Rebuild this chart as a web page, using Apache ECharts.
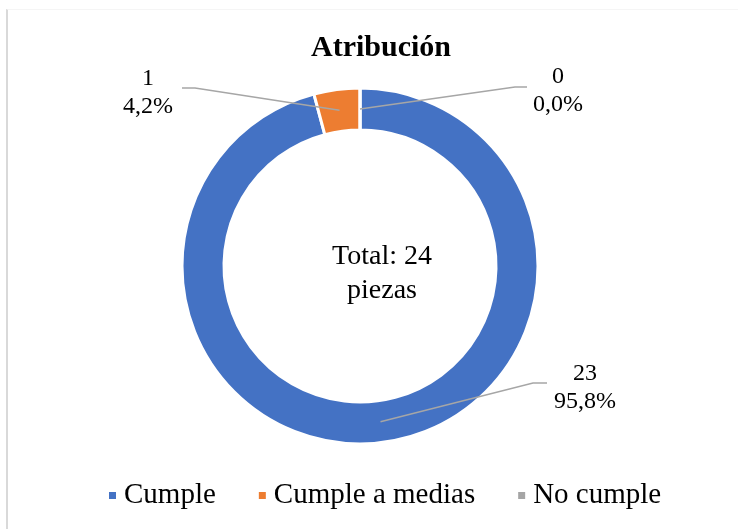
<!DOCTYPE html>
<html>
<head>
<meta charset="utf-8">
<script src="https://cdn.jsdelivr.net/npm/echarts@6/dist/echarts.min.js"></script>
<style>
    html,body{margin:0;padding:0;background:#fff;}
    #frame{position:absolute;left:6px;top:9px;width:732px;height:520px;border-left:2px solid #d9d9d9;border-top:1px solid #f5f5f5;}
    #atribucion{position:absolute;left:0;top:0;width:738px;height:529px;}
</style>
</head>
<body>
<div id="frame"></div>
<div id="atribucion"></div>
<script>
    // datos
    const categorias = ['Cumple', 'Cumple a medias', 'No cumple'];
    const valores = [23, 1, 0];
    const colores = ['#4472C4', '#ED7D31', '#A5A5A5'];
    const titulo = 'Atribución';
    const textoCentro = 'Total: 24\npiezas';

    const fuente = '"Liberation Serif", "Times New Roman", serif';
    const centro = [360, 266];
    const radios = [136, 178];

    // donde van las etiquetas y el codo de la linea guia
    const posEtiquetas = [
        {x: 585, y: 388, codo: [533, 383], fin: [547, 383]},
        {x: 148, y: 93, codo: [195, 88], fin: [182, 88]},
        {x: 558, y: 91, codo: [515, 87], fin: [527, 87]}
    ];

    const total = valores.reduce((a, b) => a + b, 0);

    // punto de anclaje a media altura del anillo, en el angulo medio de cada porcion
    function anclaje(i){
        let antes = 0;
        for(let k = 0; k < i; k++) antes += valores[k];
        let frac = (antes + valores[i] / 2) / total;
        let ang = frac * Math.PI * 2;
        let r = (radios[0] + radios[1]) / 2;
        return [centro[0] + r * Math.sin(ang), centro[1] - r * Math.cos(ang)];
    }

    // lineas guia encima del anillo (labelLine queda debajo de los sectores)
    let guias = valores.map((v, i) => ({
        type: 'polyline',
        z: 100,
        silent: true,
        shape: {points: [anclaje(i), posEtiquetas[i].codo, posEtiquetas[i].fin]},
        style: {stroke: '#A6A6A6', lineWidth: 1.5, fill: null}
    }));

    let chart = echarts.init(document.getElementById('atribucion'));
    let option = {
        animation: false,
        color: colores,
        title: [{
            text: titulo,
            left: 376,
            top: 28,
            textAlign: 'center',
            textStyle: {fontFamily: fuente, fontSize: 30, fontWeight: 'bold', color: '#000'}
        }, {
            text: textoCentro,
            left: 377,
            top: 235,
            textAlign: 'center',
            textStyle: {fontFamily: fuente, fontSize: 28, fontWeight: 'normal', color: '#000', lineHeight: 34}
        }],
        legend: {
            left: 102,
            top: 476,
            icon: 'rect',
            itemWidth: 9,
            itemHeight: 9,
            itemGap: 41,
            data: categorias,
            textStyle: {fontFamily: fuente, fontSize: 29, color: '#000', padding: [0, 0, 0, 2]}
        },
        graphic: guias,
        series: [{
            type: 'pie',
            center: centro,
            radius: radios,
            startAngle: 90,
            clockwise: true,
            minShowLabelAngle: -1,
            stillShowZeroSum: true,
            itemStyle: {borderColor: '#fff', borderWidth: 3},
            emphasis: {disabled: true},
            label: {
                show: true,
                position: 'outside',
                fontFamily: fuente,
                fontSize: 24,
                lineHeight: 28,
                color: '#000',
                align: 'center',
                formatter: function(p){
                    return p.value + '\n' + (p.value / total * 100).toFixed(1).replace('.', ',') + '%';
                }
            },
            labelLine: {show: false},
            labelLayout: function(p){
                let pos = posEtiquetas[p.dataIndex];
                return {x: pos.x, y: pos.y, align: 'center', verticalAlign: 'middle'};
            },
            data: categorias.map((c, i) => ({name: c, value: valores[i]}))
        }]
    };
    chart.setOption(option);
    window.addEventListener('resize', chart.resize);
</script>
</body>
</html>
